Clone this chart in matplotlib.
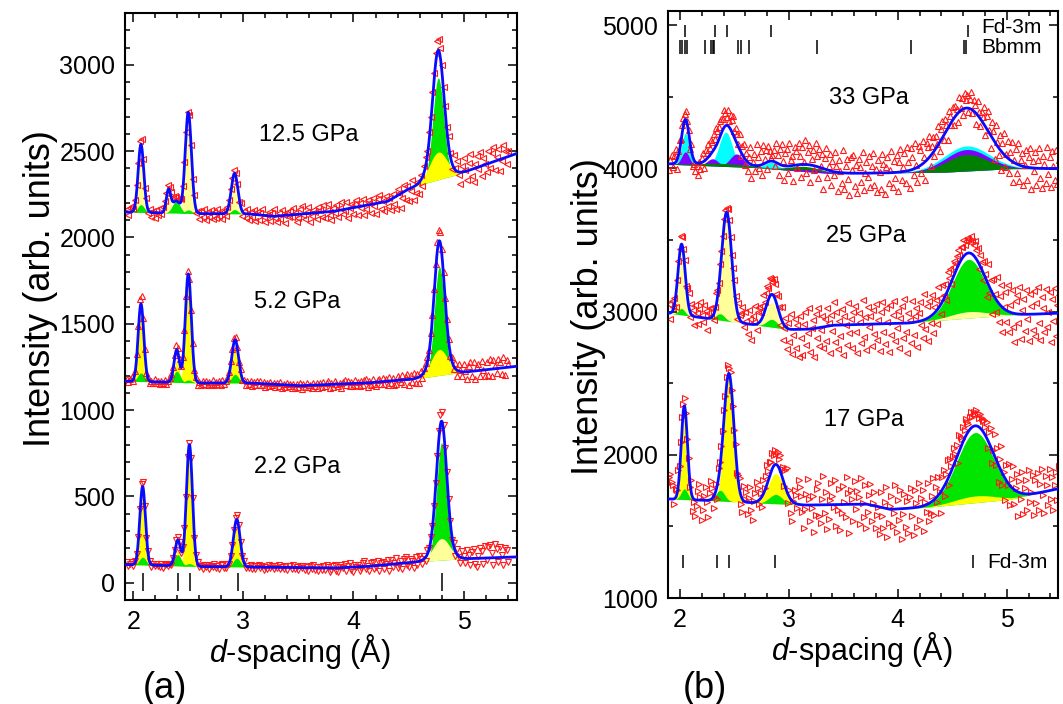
import matplotlib
matplotlib.use("Agg")
import matplotlib.pyplot as plt
import numpy as np
from matplotlib.ticker import MultipleLocator

plt.rcParams["font.family"] = ["Liberation Sans", "DejaVu Sans"]
plt.rcParams["mathtext.fontset"] = "custom"
plt.rcParams["mathtext.it"] = "Liberation Sans:italic"
plt.rcParams["mathtext.rm"] = "Liberation Sans"

# ---------------- panel (a): 2.2, 5.2, 12.5 GPa ----------------
a_d0, a_step = 1.94, 0.015

a22_bd = [1.90, 2.61, 3.06, 3.82, 4.12, 4.64, 4.94, 5.50]
a22_bi = [106, 94, 91, 85, 94, 124, 137, 150]
a22_ycen = [2.085, 2.405, 2.51, 2.94, 4.80]
a22_yhgt = [410, 85, 690, 225, 125]
a22_ywid = [0.025, 0.022, 0.027, 0.030, 0.075]
a22_gcen = [2.085, 2.405, 2.51, 2.94, 4.80]
a22_ghgt = [45, 65, 15, 50, 680]
a22_gwid = [0.030, 0.030, 0.030, 0.032, 0.045]
a22_res = [
    12, -8, 5, 15, -10, 8, 20, 30, 45, 50, 35, 10, -20, 15, 8, -12, 5, -6, 10, -4,
    -10, 6, -14, 3, 12, -5, 8, -9, 15, 20, 25, 18, 10, -15, 20, 30, 15, 25, 10, 20,
    15, -10, 5, 12, -8, 3, -14, 9, -5, 11, -12, 6, -3, 14, -9, 4, -11, 8, 13, -6,
    -8, 10, -5, 7, 12, 20, 25, 27, 20, 5, -10, 8, -12, 6, -4, 11, -13, 7, -9, 5,
    12, -6, 9, -14, 4, -8, 13, -3, 7, -12, 10, -5, 15, -9, 3, -11, 8, -15, 6, 11,
    -7, 14, -10, 5, -16, 9, -4, 12, -13, 6, -18, 10, -6, 15, -11, 3, -20, 8, -14, 12,
    -9, 16, 4, -22, -10, 12, 20, -15, -25, 6, 13, -4, 18, -20, 7, 24, -14, -26, 10, 2,
    12, -24, -8, 20, 30, -14, 5, -30, 18, 25, -20, -6, 28, -33, 10, 16, -22, 2, 26, -35,
    25, -18, 5, 32, -26, -8, 14, -32, 22, 35, -12, -28, 18, 6, -35, 26, -20, 30, 10, -24,
    15, -20, 25, 10, 30, 20, 35, 30, 40, 50, 55, 60, 45, 35, 40, 25, 10, -15, 20, -25,
    30, -5, -35, 40, 10, -28, 50, 20, -40, 35, 55, -30, -50, 15, 60, 40, -35, 70, -10, 65,
    75, 30, -40, 80, 50, -25, 60, 15, -45, 55, 40, -30,
]

a52_bd = [1.90, 2.61, 3.06, 3.51, 4.12, 4.55, 4.94, 5.50]
a52_bi = [1168, 1157, 1157, 1141, 1157, 1180, 1215, 1255]
a52_ycen = [2.07, 2.395, 2.50, 2.925, 4.78]
a52_yhgt = [400, 125, 615, 200, 150]
a52_ywid = [0.025, 0.022, 0.027, 0.030, 0.075]
a52_gcen = [2.07, 2.395, 2.50, 2.925, 4.78]
a52_ghgt = [50, 65, 15, 50, 630]
a52_gwid = [0.030, 0.030, 0.030, 0.032, 0.045]
a52_res = [
    10, -6, 12, 20, -8, 15, 30, 45, 60, 55, 40, 15, -18, 10, -12, 6, -9, 14, -5, 8,
    -12, 7, -4, 11, -9, 5, 14, 20, 18, 25, 30, 22, 15, 10, 18, 25, 20, 30, 15, 10,
    20, -8, 12, -14, 6, -10, 9, -5, 13, -11, 4, -7, 15, -12, 8, -3, 11, -9, 16, -6,
    5, 12, 15, 20, 18, 22, 20, 10, -5, 14, -9, 7, -13, 10, -6, 12, -15, 5, -8, 11,
    -10, 14, -7, 9, -16, 6, -12, 15, -4, 10, -14, 8, -9, 13, -18, 5, -11, 12, -6, 9,
    -13, 7, -17, 11, -5, 14, -20, 8, -9, 16, -12, 4, -18, 10, -7, 13, -15, 9, -10, 17,
    -8, 12, 20, -19, 6, -14, 18, 2, -10, 8, -22, 13, 24, -6, 15, -16, 10, -12, 20, -9,
    7, -18, 14, -11, 16, 22, -21, 9, -14, 19, -8, -24, 12, 17, -10, 22, -15, 11, -20, 25,
    -13, 18, -26, -18, 24, 8, -12, 28, -22, 15, 30, -30, 26, -16, 32, -25, 20, -34, 28, -18,
    25, 30, 35, 20, 40, 30, 45, 50, 60, 70, 65, 50, 40, 30, 35, 20, -10, 25, -20, 30,
    -35, 40, 10, -25, 45, 5, -40, 35, 55, -30, 50, -45, 20, 40, -35, 55, 0, -38, 45, -30,
    60, -42, 50, 15, -28, 55, 35, -35, 60, -40, 45, 20,
]

a125_bd = [1.90, 2.61, 3.06, 3.27, 3.82, 4.31, 4.49, 4.61, 4.94, 5.50]
a125_bi = [2147, 2138, 2136, 2122, 2151, 2209, 2277, 2306, 2364, 2490]
a125_ycen = [2.07, 2.32, 2.50, 2.92, 4.77]
a125_yhgt = [350, 130, 565, 210, 160]
a125_ywid = [0.025, 0.020, 0.028, 0.030, 0.080]
a125_gcen = [2.07, 2.39, 2.50, 2.92, 4.77]
a125_ghgt = [45, 70, 20, 25, 590]
a125_gwid = [0.030, 0.035, 0.030, 0.030, 0.050]
a125_res = [
    20, -15, 25, 35, 10, 30, 45, 40, 50, 40, 20, -10, 25, -20, 15, -25, 10, -30, 18, -12,
    25, -10, 30, 40, 35, 30, 20, 30, 25, 35, 20, 15, 30, 10, 25, 20, 15, 10, 20, 5,
    -15, 20, -25, 10, -30, 15, -20, 25, -35, 12, -18, 22, -28, 8, -22, 30, -15, 18, -32, 14,
    -20, 15, 20, 25, 20, 22, 15, 5, -25, 18, -30, 12, -22, 28, -35, 10, -18, 25, -40, 15,
    -28, 10, 35, -12, -40, 5, 22, -30, 18, 40, -8, -35, 15, -20, 30, 2, -45, 20, -10, 25,
    -15, 38, 8, -42, -20, 28, 45, -5, -30, 12, 36, -48, -18, 20, 5, -38, 30, 14, -25, 42,
    -32, 10, 48, -20, -50, 22, -8, 35, -40, 15, 44, -28, -12, 38, -52, 5, 26, -36, 18, 40,
    -45, 20, -10, 42, -55, -22, 30, 8, -48, 36, -15, -60, 25, 45, -35, 10, -50, 32, -25, 15,
    -60, 25, -40, -75, 35, 10, -85, -30, 40, -55, 20, -70, -15, 45, -80, -45, 15, -65, 30, -50,
    40, 55, 30, 60, 45, 70, 55, 65, 70, 65, 60, 50, 40, 45, 30, 60, 20, -30, 75, 10,
    60, -20, -70, 35, 80, 10, -55, 45, 90, -40, -75, 25, 65, -10, 85, -60, 40, 5, -45, 70,
    -30, 55, 85, -50, 20, 65, -65, -15, 75, 40, -40, 30,
]

a_labels = ["2.2 GPa", "5.2 GPa", "12.5 GPa"]
a_label_x = [3.49, 3.49, 3.59]
a_label_y = [672, 1628, 2596]
a_fd3m = [2.088, 2.406, 2.512, 2.948, 4.803]

# ---------------- panel (b): 17, 25, 33 GPa ----------------
b_d0, b_step = 1.90, 0.012

b17_bd = [1.89, 2.30, 2.67, 3.16, 3.71, 3.93, 4.265, 5.03, 5.50]
b17_bi = [1692, 1680, 1665, 1649, 1656, 1619, 1633, 1689, 1768]
b17_ycen = [2.04, 2.45, 2.88, 4.71]
b17_yhgt = [580, 885, 210, 47]
b17_ywid = [0.028, 0.045, 0.070, 0.190]
b17_gcen = [2.04, 2.37, 2.88, 4.71]
b17_ghgt = [75, 75, 65, 490]
b17_gwid = [0.030, 0.040, 0.060, 0.170]
b17_res = [
    150, 175, 120, 95, -40, 60, 30, 110, 40, 55, 70, 40, 60, 45, 20, 50, -30, 85, -95, -20,
    -110, -40, 60, 115, 20, -135, -70, 30, 95, -10, -120, 50, 130, 75, -80, -20, 40, -100, 60, 30,
    50, 40, 60, 35, 55, 70, 40, 60, 30, 50, 25, 60, -30, 45, 85, -60, -90, 100, 20, 70,
    -80, 30, 110, -50, -120, 10, 60, 140, 90, -30, 40, -70, 100, 20, 80, 130, 60, 95, 70, 110,
    80, 100, 70, 95, 60, 110, 40, 85, -20, 120, 160, -60, 50, -100, -140, 10, 90, 60, -30, 170,
    120, 60, -50, -160, -30, 80, 180, 40, -110, -20, 60, -190, -70, 110, 150, -80, -130, 40, 200, -60,
    90, -170, -100, 30, 150, 60, -20, 170, -150, -40, 110, -180, -60, 130, 20, -90, 190, 80, -200, 100,
    40, -120, 160, -30, 90, 50, -140, 180, 10, -90, 130, -170, -50, 70, 150, -110, 20, 100, -150, -60,
    0, -190, 110, -60, -140, 40, 150, -200, -100, 20, 90, -120, -30, 170, -160, 60, -80, 130, -210, -40,
    100, -130, 50, -170, 80, 140, -60, -190, 120, 30, -140, 170, -90, 60, 110, -180, 20, -50, 150, -120,
    -70, 40, 160, -110, 80, -40, 130, 10, -150, 90, 120, -80, 60, 140, -60, 100, 30, 80, 110, 50,
    90, -60, 110, 70, 40, 100, 60, 120, 80, 50, 90, 110, 70, 100, 80, 110, 90, 60, 100, 80,
    70, 90, 60, 110, -50, 80, 130, -90, 20, 150, -40, 100, -120, 60, 170, -80, 30, -150, 110, -20,
    140, -130, 60, 160, -100, 20, 120, -170, 80, -40, 150, -140, 40, 100, -110, 170, -60, 10, 130, -150,
    90, -70, 140, -120, 60, 160, -20, -150, 110, 40, -100, 150, -60, 90, -140, 30, 120, -80, 160, -110,
]

b25_bd = [1.89, 3.00, 3.20, 3.40, 4.10, 4.30, 5.00, 5.50]
b25_bi = [2990, 2875, 2878, 2905, 2920, 2935, 2975, 2990]
b25_ycen = [2.015, 2.43, 2.845, 4.65]
b25_yhgt = [450, 745, 175, 45]
b25_ywid = [0.033, 0.045, 0.055, 0.170]
b25_gcen = [2.015, 2.37, 2.845, 4.65]
b25_ghgt = [45, 45, 55, 410]
b25_gwid = [0.030, 0.040, 0.050, 0.150]
b25_res = [
    60, -40, 80, 20, 50, -70, 30, 60, 40, 70, 55, 30, 50, -20, 60, 90, -40, 70, 40, -60,
    80, 30, -50, 60, 110, 20, -30, 90, 50, -80, 40, 70, 10, 60, -40, 30, 90, 50, 20, 60,
    40, 30, 50, 40, 30, 50, 40, 30, 20, 50, 70, 40, -60, 90, 30, 60, 110, -30, 80, 20,
    -70, 100, 40, -110, 60, 20, 130, -40, 80, 110, 60, 90, 140, 70, 100, 120, 80, 130, 110, 90,
    120, 100, 60, 80, 30, -60, 90, -120, -20, 60, -150, 40, -90, 110, -170, -40, 70, -130, 30, -190,
    90, -60, -180, 40, 120, -110, -30, 150, -160, 10, 60, -200, 100, -70, 140, -130, -20, 80, -150, 50,
    -100, 130, 20, -190, 70, -40, 160, -120, 90, -170, 30, -80, 110, -210, 60, 0, -140, 150, -60, 40,
    -160, 90, 130, -50, -200, 80, 20, -130, 170, -90, 50, -180, 120, -20, 60, -150, 100, -70, 140, -110,
    30, -190, 80, 150, -60, -140, 110, 10, -200, 130, -80, 60, 160, -120, -30, 90, -170, 40, 120, -100,
    170, -60, -210, 70, 20, -140, 150, -90, 40, 100, -180, 60, 130, -30, -120, 180, -70, 90, -160, 110,
    -50, 140, -130, 40, 80, -100, 150, 60, -70, 120, 30, 90, -40, 130, 70, 110, -20, 80, 100, 60,
    90, 110, 60, 100, 80, 120, 70, 90, 110, 100, 80, 120, 90, 70, 110, 60, 90, -40, 80, 50,
    -60, 100, 30, -110, 140, -40, 70, -150, 110, 20, -90, 170, -130, 60, 150, -170, 10, 120, -80, 180,
    -140, 50, 160, -100, -200, 90, 130, -60, 190, -170, 30, 110, -120, 170, -30, -190, 140, 60, -110, 160,
    -150, 80, 190, -60, -180, 120, 40, -130, 170, -90, 10, 150, -200, 100, -50, 180, -160, 60, 130, -120,
]

b33_bd = [1.89, 2.16, 2.70, 3.40, 4.45, 5.05, 5.50]
b33_bi = [4030, 4022, 4006, 3964, 3975, 3999, 3999]
b33_ccen = [2.05, 2.42, 2.84, 4.63]
b33_chgt = [220, 240, 45, 175]
b33_cwid = [0.035, 0.060, 0.060, 0.210]
b33_pcen = [2.05, 2.30, 2.52, 3.20, 4.63]
b33_phgt = [90, 50, 90, 15, 150]
b33_pwid = [0.035, 0.050, 0.060, 0.150, 0.200]
b33_gcen = [2.40, 3.15, 4.63]
b33_ghgt = [20, 35, 115]
b33_gwid = [0.250, 0.150, 0.190]
b33_res = [
    -40, 30, 60, -20, 50, 90, -60, 40, 70, 20, 60, 50, 40, 60, 30, 20, -50, 40, -70, -30,
    -60, -20, -80, 10, -40, 30, 60, -50, 70, 40, 90, 50, 100, 70, 110, 60, 120, 80, 90, 110,
    100, 80, 120, 90, 60, 110, 40, 100, 80, 130, 50, 90, 70, 20, 110, -30, 60, 90, -40, 50,
    -60, 40, 120, -90, 20, 80, -40, 150, 60, -20, 100, -70, 130, 30, 90, -50, 110, 70, 20, 40,
    80, -30, 140, 60, -80, 110, 150, 30, -100, 90, 120, -50, 160, 40, 70, -110, 130, 100, -20, 150,
    60, -90, 120, 20, 170, -60, 90, 140, -120, 40, 110, -30, 160, 70, -80, 130, 10, 100, -140, 80,
    150, -50, 30, 120, -100, 70, -20, 140, 40, -130, 90, 10, -70, 160, -110, 50, 100, -40, -150, 110,
    20, 130, -90, 60, -140, 100, 40, -60, 150, -120, 0, 80, -30, 120, -100, 50, 140, -80, 30, -130,
    90, 10, -110, 130, 60, -150, 40, 110, -70, 20, 150, -100, 80, -40, 120, -130, 70, 160, -60, 30,
    130, -80, 170, 60, -120, 150, 90, -40, 180, 20, -100, 140, 110, -60, 160, 40, -130, 120, 80, 150,
    -70, 60, 110, -40, 90, 20, 130, -60, 80, 120, -30, 100, 40, -80, 110, 60, -20, 90, -50, 70,
    40, -60, 100, 20, 80, -40, 110, 60, 90, -30, 70, 120, -20, 80, 50, -70, 100, 30, -50, 60,
    40, 120, -60, 90, 140, 20, -90, 110, 60, -120, 130, 30, -50, 100, -130, 70, 150, -80, 20, 120,
    -100, 60, 130, -140, 20, 100, -60, 150, -110, 40, 90, -130, 10, 120, -90, 70, 140, -150, 50, -20,
    110, -120, 60, 140, -70, -140, 90, 30, -100, 150, -40, 80, -130, 120, 20, -80, 130, -110, 60, 100,
]

b_labels = ["17 GPa", "25 GPa", "33 GPa"]
b_label_x = [3.69, 3.71, 3.73]
b_label_y = [2245, 3531, 4490]
b_fd3m_low = [2.03, 2.34, 2.45, 2.87, 4.69]
b_fd3m_top = [2.049, 2.325, 2.43, 2.84, 4.64]
b_bbmm = [2.000, 2.015, 2.045, 2.062, 2.23, 2.285, 2.30, 2.315, 2.53, 2.56, 2.63,
          3.26, 4.12, 4.61, 4.625]

# ---------------- styles ----------------
YEL = "#ffff00"
PALE = "#ffff99"
GRN = "#00e600"
CYAN = "#00ffff"
PURPLE = "#8000ff"
DKGRN = "#008000"
RED = "#ff1a1a"
BLUE = "#0a0aff"


def gauss(d, cen, hgt, wid):
    d = np.asarray(d, float)[:, None]
    c, h, w = (np.asarray(v, float) for v in (cen, hgt, wid))
    return h * np.exp(-0.5 * ((d - c) / w) ** 2)


def draw_spectrum(ax, xlim, bd, bi, phases, res, d0, step, marker):
    d = np.linspace(xlim[0], xlim[1], 1500)
    base = np.interp(d, bd, bi)
    total = base.copy()
    parts = []
    for cen, hgt, wid, cols in phases:
        g = gauss(d, cen, hgt, wid)
        total += g.sum(axis=1)
        for k in range(len(cen)):
            parts.append((hgt[k], g[:, k], cols[k]))
    # taller components at the back, smaller ones in front
    for h, g, c in sorted(parts, key=lambda p: -p[0]):
        ax.fill_between(d, base, base + g, color=c, lw=0, zorder=1)

    d_obs = d0 + step * np.arange(len(res))
    obs = np.interp(d_obs, bd, bi) + np.asarray(res, float)
    for cen, hgt, wid, cols in phases:
        obs += gauss(d_obs, cen, hgt, wid).sum(axis=1)
    ax.plot(d_obs, obs, ls="none", marker=marker, ms=4.3, mfc="none",
            mec=RED, mew=0.8, zorder=2)
    ax.plot(d, total, color=BLUE, lw=2.0, zorder=3)


def style_axes(ax, ymajor, yminor):
    ax.xaxis.set_major_locator(MultipleLocator(1))
    ax.xaxis.set_minor_locator(MultipleLocator(0.2))
    ax.yaxis.set_major_locator(MultipleLocator(ymajor))
    ax.yaxis.set_minor_locator(MultipleLocator(yminor))
    ax.tick_params(which="both", direction="in", top=True, right=True, width=1.1)
    ax.tick_params(which="major", length=6.5, labelsize=18, pad=7)
    ax.tick_params(which="minor", length=3.5)
    for s in ax.spines.values():
        s.set_linewidth(1.5)
    ax.set_xlabel(r"$d$-spacing (Å)", fontsize=22)
    ax.set_ylabel("Intensity (arb. units)", fontsize=26)


fig = plt.figure(figsize=(10.63, 7.04), dpi=100)
ax_a = fig.add_axes([125 / 1063, 104 / 704, 392 / 1063, 587 / 704])
ax_b = fig.add_axes([668 / 1063, 106 / 704, 390 / 1063, 587 / 704])

xa = (1.925, 5.485)
xb = (1.89, 5.47)

# panel (a)
draw_spectrum(ax_a, xa, a22_bd, a22_bi,
              [(a22_ycen, a22_yhgt, a22_ywid, [YEL, YEL, YEL, YEL, PALE]),
               (a22_gcen, a22_ghgt, a22_gwid, [GRN] * 5)],
              a22_res, a_d0, a_step, "v")
draw_spectrum(ax_a, xa, a52_bd, a52_bi,
              [(a52_ycen, a52_yhgt, a52_ywid, [YEL] * 5),
               (a52_gcen, a52_ghgt, a52_gwid, [GRN] * 5)],
              a52_res, a_d0, a_step, "^")
draw_spectrum(ax_a, xa, a125_bd, a125_bi,
              [(a125_ycen, a125_yhgt, a125_ywid, [PALE, PALE, PALE, PALE, YEL]),
               (a125_gcen, a125_ghgt, a125_gwid, [GRN] * 5)],
              a125_res, a_d0, a_step, "<")
for lab, x, y in zip(a_labels, a_label_x, a_label_y):
    ax_a.text(x, y, lab, ha="center", va="center", fontsize=17)
ax_a.vlines(a_fd3m, -50, 55, color="k", lw=1.1)
ax_a.set_xlim(*xa)
ax_a.set_ylim(-100, 3300)
style_axes(ax_a, 500, 100)

# panel (b)
draw_spectrum(ax_b, xb, b17_bd, b17_bi,
              [(b17_ycen, b17_yhgt, b17_ywid, [YEL] * 4),
               (b17_gcen, b17_ghgt, b17_gwid, [GRN] * 4)],
              b17_res, b_d0, b_step, ">")
draw_spectrum(ax_b, xb, b25_bd, b25_bi,
              [(b25_ycen, b25_yhgt, b25_ywid, [PALE] * 4),
               (b25_gcen, b25_ghgt, b25_gwid, [GRN] * 4)],
              b25_res, b_d0, b_step, "<")
draw_spectrum(ax_b, xb, b33_bd, b33_bi,
              [(b33_ccen, b33_chgt, b33_cwid, [CYAN] * 4),
               (b33_pcen, b33_phgt, b33_pwid, [PURPLE] * 5),
               (b33_gcen, b33_ghgt, b33_gwid, [DKGRN] * 3)],
              b33_res, b_d0, b_step, "^")
for lab, x, y in zip(b_labels, b_label_x, b_label_y):
    ax_b.text(x, y, lab, ha="center", va="center", fontsize=17)
ax_b.vlines(b_fd3m_low, 1210, 1300, color="k", lw=1.1)
ax_b.vlines(b_fd3m_top, 4915, 5005, color="k", lw=1.1)
ax_b.vlines(b_bbmm, 4800, 4900, color="k", lw=1.1)
ax_b.text(4.82, 1245, "Fd-3m", ha="left", va="center", fontsize=15)
ax_b.text(4.77, 4988, "Fd-3m", ha="left", va="center", fontsize=15)
ax_b.text(4.77, 4842, "Bbmm", ha="left", va="center", fontsize=15)
ax_b.set_xlim(*xb)
ax_b.set_ylim(1000, 5100)
style_axes(ax_b, 1000, 500)

ax_a.yaxis.set_label_coords(-0.17, 0.53)
ax_b.yaxis.set_label_coords(-0.16, 0.48)
ax_a.xaxis.set_label_coords(0.446, -0.055)
ax_b.xaxis.set_label_coords(0.497, -0.055)

fig.text(165 / 1063, 1 - 688 / 704, "(a)", ha="center", va="center", fontsize=26)
fig.text(705 / 1063, 1 - 688 / 704, "(b)", ha="center", va="center", fontsize=26)

fig.savefig("out.png", dpi=100)
